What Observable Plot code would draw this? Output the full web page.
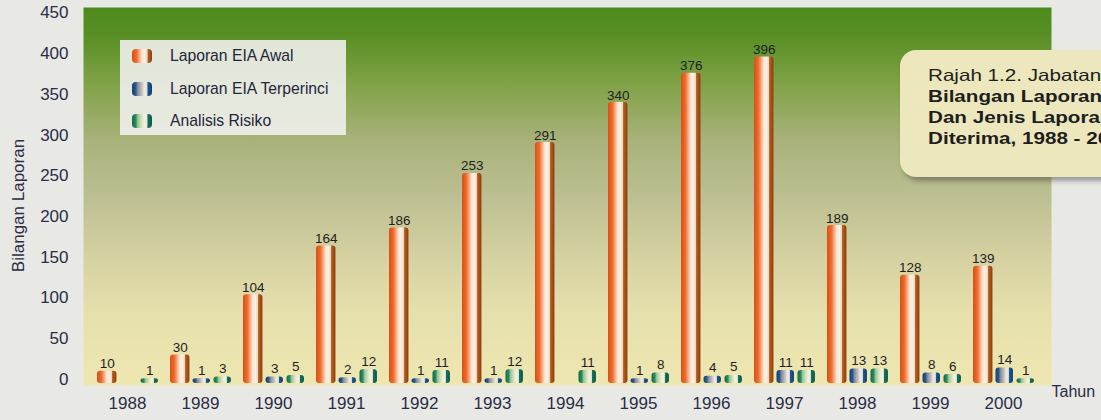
<!DOCTYPE html>
<html><head><meta charset="utf-8">
<script src="https://cdn.jsdelivr.net/npm/d3@7"></script>
<script src="https://cdn.jsdelivr.net/npm/@observablehq/plot@0.6"></script>
<style>
body{margin:0;background:#e8e8e5;overflow:hidden;font-family:"Liberation Sans",Arial,sans-serif;}
#wrap{position:relative;width:1101px;height:420px;overflow:hidden;}
#legend{position:absolute;left:120px;top:40px;width:226px;height:95px;background:rgba(240,240,236,0.9);}
.item{position:absolute;left:12px;height:20px;display:flex;align-items:center;font-size:15.7px;color:#23253a;white-space:nowrap;}
.sw{width:20px;height:14px;border-radius:4px;margin-right:18px;}
#title{position:absolute;left:900px;top:50px;width:260px;height:127px;border-radius:16px;background:#ece7bd;box-shadow:3px 4px 5px rgba(60,60,60,.45);box-sizing:border-box;padding:15px 0 0 28px;color:#1e1e1e;white-space:nowrap;}
#title .txt{font-size:16.5px;line-height:21px;transform:scaleX(1.25);transform-origin:0 0;}
#title b{font-weight:bold;}
</style></head>
<body><div id="wrap"></div>
<script>
const years = [1988,1989,1990,1991,1992,1993,1994,1995,1996,1997,1998,1999,2000];
const awal = [10,30,104,164,186,253,291,340,376,396,189,128,139];
const terperinci = [null,1,3,2,1,1,null,1,4,11,13,8,14];
const risiko = [1,3,5,12,11,12,11,8,5,11,13,6,1];
const seriesNames = ["Laporan EIA Awal","Laporan EIA Terperinci","Analisis Risiko"];
const yTicks = [0,50,100,150,200,250,300,350,400,450];
const titleLines = ["Rajah 1.2. Jabatan","Bilangan Laporan","Dan Jenis Laporan","Diterima, 1988 - 2000"];
const xLabel = "Tahun";
const yLabel = "Bilangan Laporan";

const gradients = [
  {id:"g0", stops:[[0,"#d65018"],[0.22,"#ee6a28"],[0.36,"#f6a57c"],[0.5,"#fce6d4"],[0.64,"#f8f0e4"],[0.76,"#ead6bc"],[0.8,"#b85e1e"],[1,"#8a3e0e"]]},
  {id:"g1", stops:[[0,"#143c74"],[0.2,"#2c5c92"],[0.26,"#7c8494"],[0.48,"#bfbfc2"],[0.62,"#eeeae0"],[0.74,"#e6e4d4"],[0.8,"#1c5a92"],[1,"#0f3a6e"]]},
  {id:"g2", stops:[[0,"#146846"],[0.2,"#2a9062"],[0.28,"#92c294"],[0.48,"#d8e4c0"],[0.62,"#f4f0dc"],[0.74,"#eeead4"],[0.8,"#16705e"],[1,"#0b5846"]]}
];
const bgStops = [[0,"#4c8a1e"],[0.08,"#5a9026"],[0.2,"#80a246"],[0.35,"#a8b27a"],[0.5,"#bcbf92"],[0.65,"#d4d0a0"],[0.8,"#e5dfab"],[1,"#eee7b2"]];

const seriesValues = [awal, terperinci, risiko];
const data = [];
seriesNames.forEach((s, i) => years.forEach((y, j) => {
  const v = seriesValues[i][j];
  if (v != null) data.push({year: String(y), series: s, si: i, value: v});
}));

// layout inside each year band (band width ~64.6px)
const bw = 73.53 * (1 - 0.122);
const slots = [{l:0, w:20}, {l:22.5, w:18}, {l:43.5, w:18}];

const marks = [Plot.frame({fill: "url(#bgGrad)", stroke: null})];
slots.forEach((s, i) => {
  const sub = data.filter(d => d.si === i);
  marks.push(Plot.barY(sub, {x: "year", y: "value", fill: `url(#g${i})`, insetLeft: s.l, insetRight: bw - s.l - s.w, insetBottom: -4, rx: 3}));
  marks.push(Plot.text(sub, {x: "year", y: "value", text: d => String(d.value), dx: s.l + s.w / 2 - bw / 2, dy: i === 0 ? -3 : -4, lineAnchor: "bottom", fontSize: 13.5, fill: "#1e1e1e"}));
});
marks.push(Plot.axisX({tickSize: 0, tickPadding: 11, dx: -2, label: null, fill: "#2a2d45"}));
marks.push(Plot.axisY({ticks: yTicks, tickSize: 0, tickPadding: 15, label: null, fill: "#2a2d45"}));
marks.push(Plot.text([yLabel], {frameAnchor: "left", textAnchor: "middle", lineAnchor: "middle", rotate: -90, dx: -65, dy: 9, fontSize: 17, fill: "#2a2d45"}));
marks.push(Plot.text([xLabel], {frameAnchor: "bottom-right", textAnchor: "start", lineAnchor: "middle", dy: 6, fontSize: 16, fill: "#2a2d45"}));

const chart = Plot.plot({
  width: 1101, height: 420,
  marginLeft: 83, marginRight: 50, marginTop: 7, marginBottom: 35,
  style: {fontFamily: '"Liberation Sans", Arial, sans-serif', fontSize: "17px", background: "transparent", color: "#2a2d45"},
  x: {type: "band", domain: years.map(String), range: [93.75, 1040.75], paddingInner: 0.122, paddingOuter: 0},
  y: {domain: [-7.4, 456.8]},
  marks
});

const svg = d3.select(chart);
const defs = svg.insert("defs", ":first-child");
const bg = defs.append("linearGradient").attr("id", "bgGrad").attr("x1", 0).attr("y1", 0).attr("x2", 0).attr("y2", 1);
bgStops.forEach(([o, c]) => bg.append("stop").attr("offset", o).attr("stop-color", c));
gradients.forEach(g => {
  const lg = defs.append("linearGradient").attr("id", g.id).attr("x1", 0).attr("y1", 0).attr("x2", 1).attr("y2", 0);
  g.stops.forEach(([o, c]) => lg.append("stop").attr("offset", o).attr("stop-color", c));
});

const wrap = document.getElementById("wrap");
wrap.appendChild(chart);

const legend = document.createElement("div");
legend.id = "legend";
seriesNames.forEach((s, i) => {
  const it = document.createElement("div");
  it.className = "item";
  it.style.top = (6 + i * 32.5) + "px";
  const sw = document.createElement("span");
  sw.className = "sw";
  sw.style.background = "linear-gradient(to right," + gradients[i].stops.map(([o, c]) => c + " " + (o * 100) + "%").join(",") + ")";
  const tx = document.createElement("span");
  tx.textContent = s;
  it.appendChild(sw); it.appendChild(tx);
  legend.appendChild(it);
});
wrap.appendChild(legend);

const title = document.createElement("div");
title.id = "title";
const txt = document.createElement("div");
txt.className = "txt";
titleLines.forEach((t, i) => {
  const line = document.createElement("div");
  if (i === 0) line.textContent = t;
  else { const b = document.createElement("b"); b.textContent = t; line.appendChild(b); }
  txt.appendChild(line);
});
title.appendChild(txt);
wrap.appendChild(title);
</script>
</body></html>
